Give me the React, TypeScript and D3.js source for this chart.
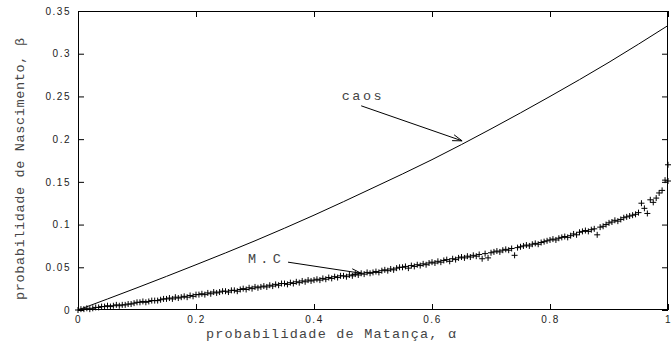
import { useEffect, useRef } from 'react';
import * as d3 from 'd3';

const X_TICKS = [0, 0.2, 0.4, 0.6, 0.8, 1];
const X_TICK_LABELS = ['0', '0.2', '0.4', '0.6', '0.8', '1'];
const Y_TICKS = [0, 0.05, 0.1, 0.15, 0.2, 0.25, 0.3, 0.35];
const Y_TICK_LABELS = ['0', '0.05', '0.1', '0.15', '0.2', '0.25', '0.3', '0.35'];

// curva "caos"
const CAOS_ALPHA = [0, 0.1, 0.2, 0.3, 0.4, 0.5, 0.6, 0.7, 0.8, 0.9, 1.0];
const CAOS_BETA = [0, 0.026, 0.053, 0.081, 0.111, 0.143, 0.176, 0.212, 0.25, 0.29, 0.333];

// pontos de Monte Carlo, alfa = 0, 0.005, ..., 1
const MC_STEP = 0.005;
const MC_BETA = [
  0.000, 0.001, 0.001, 0.002, 0.001, 0.002, 0.003, 0.003, 0.004, 0.004,
  0.005, 0.004, 0.005, 0.006, 0.005, 0.006, 0.006, 0.007, 0.007, 0.008,
  0.009, 0.009, 0.010, 0.009, 0.010, 0.011, 0.011, 0.011, 0.012, 0.013,
  0.013, 0.014, 0.013, 0.015, 0.014, 0.015, 0.016, 0.015, 0.017, 0.016,
  0.018, 0.018, 0.019, 0.018, 0.020, 0.019, 0.021, 0.020, 0.021, 0.022,
  0.022, 0.021, 0.023, 0.023, 0.022, 0.024, 0.025, 0.024, 0.026, 0.025,
  0.027, 0.026, 0.027, 0.028, 0.027, 0.029, 0.028, 0.030, 0.029, 0.031,
  0.031, 0.030, 0.032, 0.031, 0.033, 0.032, 0.034, 0.033, 0.035, 0.034,
  0.035, 0.036, 0.035, 0.037, 0.036, 0.038, 0.037, 0.039, 0.038, 0.040,
  0.040, 0.039, 0.041, 0.040, 0.042, 0.041, 0.043, 0.042, 0.044, 0.043,
  0.044, 0.045, 0.044, 0.046, 0.047, 0.046, 0.048, 0.047, 0.049, 0.050,
  0.050, 0.051, 0.049, 0.052, 0.051, 0.053, 0.052, 0.054, 0.053, 0.055,
  0.056, 0.055, 0.057, 0.056, 0.058, 0.059, 0.057, 0.060, 0.059, 0.061,
  0.062, 0.061, 0.063, 0.062, 0.064, 0.063, 0.065, 0.060, 0.066, 0.061,
  0.067, 0.068, 0.069, 0.068, 0.070, 0.071, 0.070, 0.072, 0.064, 0.073,
  0.074, 0.075, 0.076, 0.075, 0.077, 0.078, 0.077, 0.079, 0.080, 0.081,
  0.082, 0.083, 0.082, 0.084, 0.085, 0.086, 0.085, 0.087, 0.089, 0.088,
  0.091, 0.092, 0.093, 0.092, 0.094, 0.095, 0.088, 0.097, 0.098, 0.100,
  0.102, 0.103, 0.105, 0.104, 0.106, 0.108, 0.109, 0.110, 0.111, 0.112,
  0.114, 0.125, 0.119, 0.113, 0.129, 0.126, 0.131, 0.137, 0.140, 0.152,
  0.151,
];
const MC_EXTRA = [[1.0, 0.17]];

// anotacoes: texto na posicao (alfa, beta); setas [alfa0, beta0, alfa1, beta1]
const CAOS_LABEL = { text: 'caos', a: 0.447, b: 0.246, width: 40 };
const CAOS_ARROW = [0.48, 0.239, 0.651, 0.198];
const MC_LABEL = { text: 'M.C', a: 0.288, b: 0.055, width: 33 };
const MC_ARROW = [0.356, 0.056, 0.48, 0.043];

const W = 671;
const H = 341;

const Chart = () => {
  const svgRef = useRef(null);

  useEffect(() => {
    const svg = d3.select(svgRef.current);
    svg.selectAll('*').remove();

    const margin = { top: 11, right: 3, bottom: 31, left: 78 };
    const x = d3.scaleLinear().domain([0, 1]).range([margin.left, W - margin.right]);
    const y = d3.scaleLinear().domain([0, 0.35]).range([H - margin.bottom, margin.top]);

    const tickFont = (g) =>
      g.selectAll('text')
        .style('font-family', '"Liberation Sans", Arial, sans-serif')
        .style('font-size', '10px')
        .style('letter-spacing', '1.5px')
        .style('fill', '#222');

    // eixos com marcas para dentro
    svg.append('g')
      .attr('transform', `translate(${margin.left},0)`)
      .call(d3.axisLeft(y).tickValues(Y_TICKS).tickSize(-6).tickPadding(7)
        .tickFormat((d, i) => Y_TICK_LABELS[i]))
      .call(g => g.select('.domain').remove())
      .call(tickFont);

    svg.append('g')
      .attr('transform', `translate(${W - margin.right},0)`)
      .call(d3.axisRight(y).tickValues(Y_TICKS).tickSize(-6).tickFormat(() => ''))
      .call(g => g.select('.domain').remove());

    svg.append('g')
      .attr('transform', `translate(0,${H - margin.bottom})`)
      .call(d3.axisBottom(x).tickValues(X_TICKS).tickSize(-6).tickPadding(6)
        .tickFormat((d, i) => X_TICK_LABELS[i]))
      .call(g => g.select('.domain').remove())
      .call(tickFont);

    svg.append('g')
      .attr('transform', `translate(0,${margin.top})`)
      .call(d3.axisTop(x).tickValues(X_TICKS).tickSize(-6).tickFormat(() => ''))
      .call(g => g.select('.domain').remove());

    svg.append('rect')
      .attr('x', margin.left + 0.5)
      .attr('y', margin.top + 0.5)
      .attr('width', W - margin.left - margin.right - 1)
      .attr('height', H - margin.top - margin.bottom - 1)
      .attr('fill', 'none')
      .attr('stroke', '#000');

    // curva caos
    const line = d3.line()
      .x(d => x(d[0]))
      .y(d => y(d[1]))
      .curve(d3.curveMonotoneX);

    svg.append('path')
      .datum(CAOS_ALPHA.map((a, i) => [a, CAOS_BETA[i]]))
      .attr('d', line)
      .attr('fill', 'none')
      .attr('stroke', '#000')
      .attr('stroke-width', 1);

    // pontos M.C.
    const mc = MC_BETA.map((b, i) => [i * MC_STEP, b]).concat(MC_EXTRA);
    svg.append('g')
      .selectAll('path')
      .data(mc)
      .enter().append('path')
      .attr('transform', d => `translate(${x(d[0])},${y(d[1])})`)
      .attr('d', 'M-3,0H3M0,-3V3')
      .attr('stroke', '#000')
      .attr('stroke-width', 1)
      .attr('fill', 'none');

    const monoText = (sel) =>
      sel.style('font-family', '"Liberation Mono", "DejaVu Sans Mono", monospace')
        .style('font-size', '13.5px')
        .style('fill', '#444')
        .attr('lengthAdjust', 'spacing');

    // setas
    const arrow = ([a0, b0, a1, b1]) => {
      const x0 = x(a0), y0 = y(b0), x1 = x(a1), y1 = y(b1);
      const ang = Math.atan2(y1 - y0, x1 - x0);
      const len = 10, spread = Math.PI / 10;
      const hx1 = x1 - len * Math.cos(ang - spread), hy1 = y1 - len * Math.sin(ang - spread);
      const hx2 = x1 - len * Math.cos(ang + spread), hy2 = y1 - len * Math.sin(ang + spread);
      svg.append('path')
        .attr('d', `M${x0},${y0}L${x1},${y1}M${hx1},${hy1}L${x1},${y1}L${hx2},${hy2}`)
        .attr('fill', 'none')
        .attr('stroke', '#000')
        .attr('stroke-width', 1);
    };
    arrow(CAOS_ARROW);
    arrow(MC_ARROW);

    [CAOS_LABEL, MC_LABEL].forEach(l => {
      svg.append('text')
        .attr('x', x(l.a))
        .attr('y', y(l.b))
        .attr('textLength', l.width)
        .call(monoText)
        .text(l.text);
    });

    // titulos dos eixos
    svg.append('text')
      .attr('x', 331)
      .attr('y', 338)
      .attr('text-anchor', 'middle')
      .attr('textLength', 250)
      .call(monoText)
      .text('probabilidade de Matança, α');

    svg.append('text')
      .attr('transform', 'translate(24,169) rotate(-90)')
      .attr('text-anchor', 'middle')
      .attr('textLength', 262)
      .call(monoText)
      .text('probabilidade de Nascimento, β');
  }, []);

  return (
    <svg ref={svgRef} width={W} height={H}
      style={{ position: 'absolute', left: 0, top: 0, background: '#fff' }} />
  );
};

export default function App() {
  return <Chart />;
}
